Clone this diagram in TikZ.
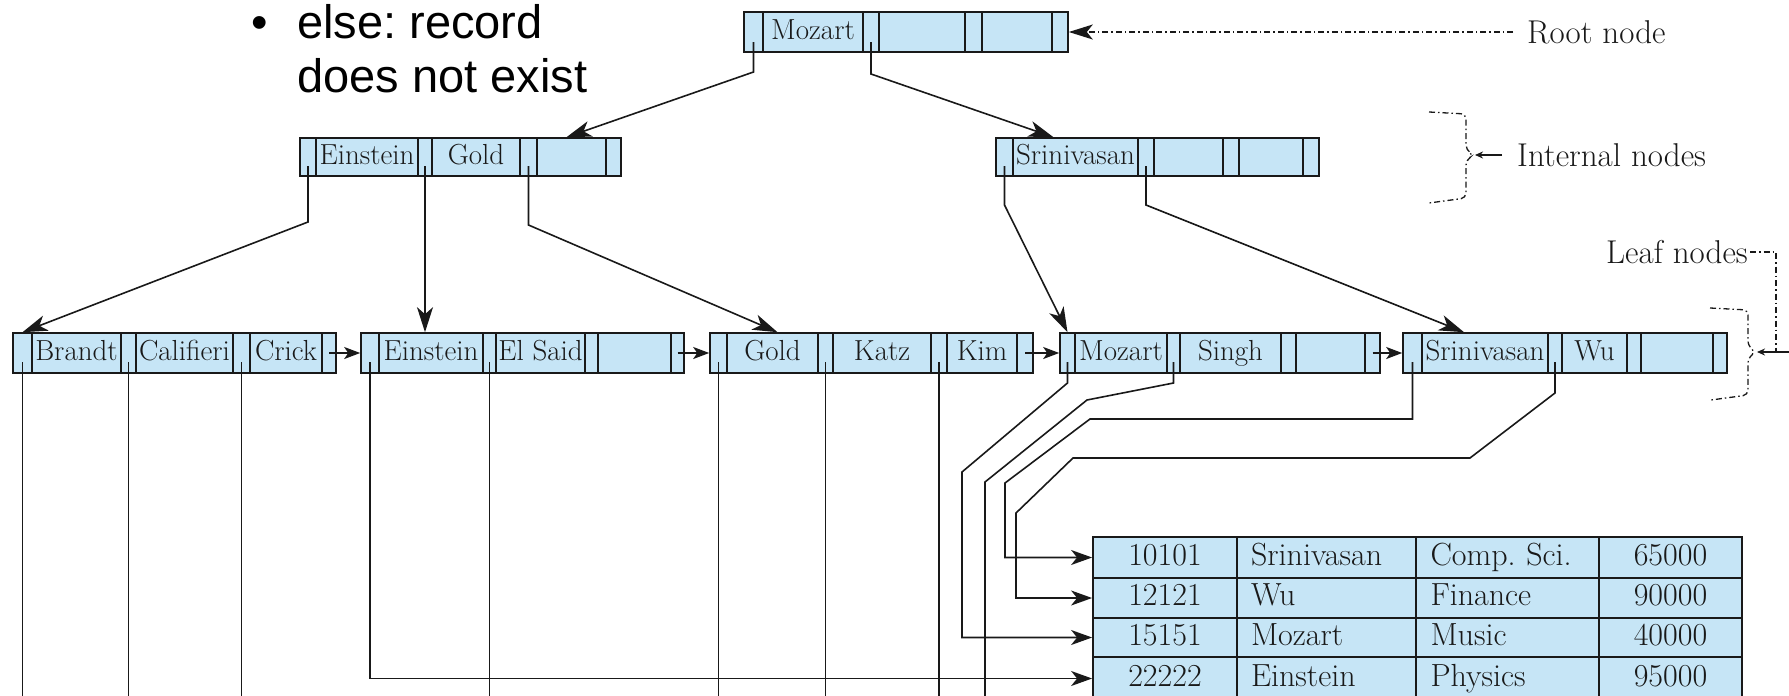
\documentclass[tikz,border=0pt]{standalone}
\usepackage{fontspec}
\newfontfamily\arialf{Liberation Sans}
\usetikzlibrary{arrows.meta}
\definecolor{cellblue}{RGB}{198,229,246}
\definecolor{ink}{RGB}{25,25,25}
\frenchspacing
\tikzset{
  cell/.style={draw=ink, fill=cellblue, line width=1.6pt, inner sep=0pt, text=ink,
    font=\fontsize{29}{32}\selectfont, text height=19pt, text depth=5pt},
  ptr/.style={draw=ink, line width=1.6pt},
  tree/.style={ptr, -{Stealth[length=25pt,width=16pt,inset=7pt]}},
  nextp/.style={ptr, -{Stealth[length=16pt,width=12pt,inset=4pt]}},
  rec/.style={ptr, -{Stealth[length=21pt,width=15pt,inset=6pt]}},
  dashdot/.style={draw=ink, line width=1.3pt, dash pattern=on 6pt off 3pt on 1.5pt off 3pt},
  lbl/.style={font=\fontsize{33}{36}\selectfont, inner sep=0pt, text=ink},
  tcell/.style={draw=ink, fill=cellblue, line width=1.8pt, inner sep=0pt, text=ink,
    font=\fontsize{32}{36}\selectfont, text height=22pt, text depth=7pt},
  tleft/.style={align=left, inner xsep=14pt},
  slide/.style={anchor=base west, inner sep=0pt, font=\arialf\fontsize{47}{54}\selectfont},
}
\newcommand\bpnode[4]{%
  \foreach \xa/\xb/\txt/\id in {#4}{%
    \node[cell, minimum width={(\xb-\xa)*1pt}, minimum height={(#3-#2)*1pt}]
      (#1-\id) at ({(\xa+\xb)/2},{(#2+#3)/2}) {\txt};
  }%
}
\begin{document}
\begin{tikzpicture}[x=1pt,y=-1pt]
\useasboundingbox (0,0) rectangle (1789,696);
\clip (0,0) rectangle (1789,696);

% slide text
\node[slide] (b1) at (251,38) {\makebox[46pt][l]{•}else: record};
\node[slide] (b2) at (297,92) {does not exist};

% B+ tree nodes
\bpnode{root}{12}{52}{744/763/{}/p1, 763/863/Mozart/k1, 863/879/{}/p2, 879/965/{}/k2, 965/982/{}/p3, 982/1052/{}/k3, 1052/1068/{}/p4}
\bpnode{ein}{138}{176}{300/316/{}/p1, 316/418/Einstein/k1, 418/432/{}/p2, 432/520/Gold/k2, 520/537/{}/p3, 537/606/{}/k3, 606/621/{}/p4}
\bpnode{srin}{138}{176}{996/1013/{}/p1, 1013/1138/Srinivasan/k1, 1138/1154/{}/p2, 1154/1223/{}/k2, 1223/1239/{}/p3, 1239/1303/{}/k3, 1303/1319/{}/p4}
\bpnode{l1}{333}{373}{13/32/{}/p1, 32/121/Brandt/k1, 121/136/{}/p2, 136/233/Califieri/k2, 233/250/{}/p3, 250/322/Crick/k3, 322/336/{}/p4}
\bpnode{l2}{333}{373}{361/379/{}/p1, 379/483/Einstein/k1, 483/496/{}/p2, 496/585/El Said/k2, 585/598/{}/p3, 598/671/{}/k3, 671/684/{}/p4}
\bpnode{l3}{333}{373}{710/727/{}/p1, 727/818/Gold/k1, 818/833/{}/p2, 833/931/Katz/k2, 931/947/{}/p3, 947/1017/Kim/k3, 1017/1033/{}/p4}
\bpnode{l4}{333}{373}{1060/1075/{}/p1, 1075/1167/Mozart/k1, 1167/1180/{}/p2, 1180/1281/Singh/k2, 1281/1296/{}/p3, 1296/1365/{}/k3, 1365/1380/{}/p4}
\bpnode{l5}{333}{373}{1403/1422/{}/p1, 1422/1548/Srinivasan/k1, 1548/1562/{}/p2, 1562/1627/Wu/k2, 1627/1641/{}/p3, 1641/1713/{}/k3, 1713/1727/{}/p4}

% record table
\foreach \r/\ya/\yb/\c/\n/\d/\s in {1/537/578/10101/Srinivasan/Comp. Sci./65000, 2/578/618/12121/Wu/Finance/90000, 3/618/657/15151/Mozart/Music/40000, 4/657/700/22222/Einstein/Physics/95000}{
  \node[tcell, minimum width=144pt, minimum height={(\yb-\ya)*1pt}] (t\r1) at (1165,{(\ya+\yb)/2}) {\c};
  \node[tcell, tleft, text width=151pt, minimum height={(\yb-\ya)*1pt}] (t\r2) at (1326.5,{(\ya+\yb)/2}) {\n};
  \node[tcell, tleft, text width=155pt, minimum height={(\yb-\ya)*1pt}] (t\r3) at (1508,{(\ya+\yb)/2}) {\d};
  \node[tcell, minimum width=143pt, minimum height={(\yb-\ya)*1pt}] (t\r4) at (1670.5,{(\ya+\yb)/2}) {\s};
}

% root to internal nodes
\draw[tree] ([yshift=-10pt]root-p1.center) -- ++(0,30) -- ([xshift=-5pt]ein-k3.north);
\draw[tree] ([yshift=-10pt]root-p2.center) -- ++(0,32) -- ([xshift=-22pt]srin-k1.north);

% internal nodes to leaves
\draw[tree] ([yshift=-9pt]ein-p1.center) -- ++(0,56) -- (l1-p1.north);
\draw[tree] ([yshift=-9pt]ein-p2.center) -- (ein-p2.center |- l2-k1.north);
\draw[tree] ([yshift=-9pt]ein-p3.center) -- ++(0,59) -- ([xshift=5pt]l3-k1.north);
\draw[tree] ([yshift=-9pt]srin-p1.center) -- ++(0,39) -- (l4-p1.north);
\draw[tree] ([yshift=-9pt]srin-p2.center) -- ++(0,39) -- ([xshift=-21pt]l5-k1.north);

% leaf chain
\draw[nextp] (l1-p4.center) -- (l2-p1.west);
\draw[nextp] (l2-p4.center) -- (l3-p1.west);
\draw[nextp] (l3-p4.center) -- (l4-p1.west);
\draw[nextp] (l4-p4.center) -- (l5-p1.west);

% record pointers
\coordinate (bot) at (0,700);
\foreach \p in {l1-p1,l1-p2,l1-p3,l2-p2,l3-p1,l3-p2,l3-p3}
  \draw[ptr] ([yshift=-9pt]\p.center) -- (\p.center |- bot);
\draw[rec] ([yshift=-9pt]l2-p1.center) |- (t41.west);
\draw[rec] ([yshift=-9pt]l4-p1.center) -- ++(0,21) -- (962,472) |- (t31.west);
\draw[ptr] ([yshift=-9pt]l4-p2.center) -- ++(0,21) -- (1087,400) -- (985,482) -- (985,700);
\draw[rec] ([yshift=-9pt]l5-p1.center) -- ++(0,57) -- (1090,419) -- (1005,483) |- (t11.west);
\draw[rec] ([yshift=-9pt]l5-p2.center) -- ++(0,31) -- (1470,458) -- (1073,458) -- (1016,513) |- (t21.west);

% labels
\node[lbl, anchor=west] (rootlbl) at (1527,32) {Root node};
\draw[dashdot, -{Stealth[length=24pt,width=15pt,inset=6pt]}] ([xshift=-14pt]rootlbl.west) -- (root-p4.east);

\node[lbl, anchor=west] (intlbl) at (1517,155) {Internal nodes};
\draw[dashdot, rounded corners=5pt] (1429,112) -- (1466,114) -- (1466,150) -- (1474,155) -- (1466,160) -- (1466,198) -- (1429,203);
\coordinate (ibtip) at (1475,155);
\draw[ptr, line width=1.3pt, -{Stealth[length=8pt,width=7pt]}] ([xshift=-15pt]intlbl.west) -- (ibtip);

\node[lbl, anchor=west] (leaflbl) at (1606,252) {Leaf nodes};
\draw[dashdot] ([xshift=2pt]leaflbl.east) -| (1776,352);
\draw[dashdot, rounded corners=5pt] (1710,308) -- (1748,310) -- (1748,346) -- (1756,352) -- (1748,358) -- (1748,395) -- (1711,400);
\coordinate (lbtip) at (1757,352);
\coordinate (lbend) at (1789,352);
\draw[ptr, line width=1.3pt, -{Stealth[length=8pt,width=7pt]}] (lbend) -- (lbtip);
\end{tikzpicture}
\end{document}
